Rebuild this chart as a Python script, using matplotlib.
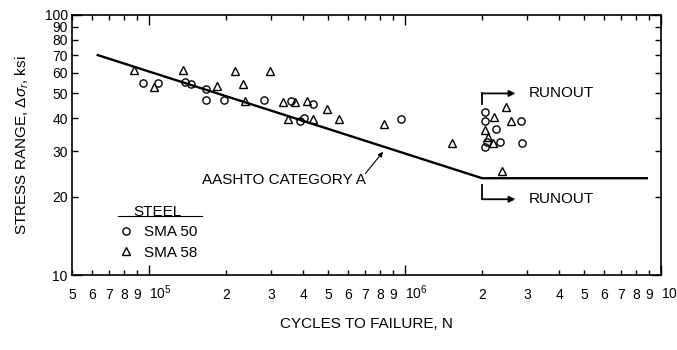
import matplotlib
matplotlib.use('Agg')
import matplotlib.pyplot as plt
from matplotlib.ticker import FixedLocator, FixedFormatter

plt.rcParams['font.family'] = ['Liberation Sans', 'DejaVu Sans']
plt.rcParams['mathtext.fontset'] = 'custom'
plt.rcParams['mathtext.rm'] = 'Liberation Sans'
plt.rcParams['mathtext.it'] = 'Liberation Sans:italic'

# AASHTO category A design line
aashto_n = [6.3e4, 2.0e6, 8.8e6]
aashto_s = [70.0, 23.6, 23.6]

# SMA 50 steel (circles)
sma50_n = [9.5e4, 1.087e5, 1.386e5, 1.459e5, 1.67e5, 1.67e5, 1.97e5, 2.81e5,
           3.58e5, 4.38e5, 3.90e5, 4.04e5, 9.65e5,
           2.05e6, 2.05e6, 2.84e6, 2.27e6, 2.09e6, 2.34e6, 2.05e6, 2.86e6]
sma50_s = [54.5, 54.8, 55.0, 54.3, 52.1, 46.9, 46.9, 46.9,
           46.7, 45.4, 39.2, 40.0, 39.7,
           42.4, 39.2, 39.1, 36.6, 32.4, 32.6, 31.2, 32.3]

# SMA 58 steel (triangles)
sma58_n = [8.74e4, 1.046e5, 1.354e5, 1.85e5, 2.17e5, 2.32e5, 2.36e5, 2.98e5,
           3.33e5, 3.72e5, 4.13e5, 3.48e5, 4.94e5, 4.36e5, 5.54e5, 8.28e5,
           1.53e6, 2.47e6, 2.23e6, 2.59e6, 2.05e6, 2.10e6, 2.20e6, 2.39e6]
sma58_s = [61.3, 52.9, 61.3, 53.4, 60.9, 54.2, 46.7, 60.8,
           46.3, 46.3, 46.7, 39.7, 43.4, 39.7, 39.7, 38.0,
           32.1, 44.3, 40.4, 39.1, 36.1, 34.0, 32.1, 25.1]

x_major = [1e5, 1e6, 1e7]
x_major_labels = [r'$10^5$', r'$10^6$', r'$10^7$']
x_minor = [5e4, 6e4, 7e4, 8e4, 9e4,
           2e5, 3e5, 4e5, 5e5, 6e5, 7e5, 8e5, 9e5,
           2e6, 3e6, 4e6, 5e6, 6e6, 7e6, 8e6, 9e6]
x_minor_labels = ['5', '6', '7', '8', '9',
                  '2', '3', '4', '5', '6', '7', '8', '9',
                  '2', '3', '4', '5', '6', '7', '8', '9']
y_major = [10, 100]
y_minor = [20, 30, 40, 50, 60, 70, 80, 90]

fs = 10
fs_txt = 11
fig = plt.figure(figsize=(6.77, 3.5), dpi=100)
ax = fig.add_axes([0.1064, 0.213, 0.87, 0.745])
ax.set_xscale('log')
ax.set_yscale('log')
ax.set_xlim(5e4, 1e7)
ax.set_ylim(10, 100)

ax.plot(aashto_n, aashto_s, color='black', lw=1.7)
ax.plot(sma50_n, sma50_s, 'o', ms=5.2, mfc='none', mec='black', mew=1.0, label='SMA 50')
ax.plot(sma58_n, sma58_s, '^', ms=5.2, mfc='none', mec='black', mew=1.0, label='SMA 58')

# x ticks
ax.xaxis.set_major_locator(FixedLocator(x_major))
ax.xaxis.set_major_formatter(FixedFormatter(x_major_labels))
ax.xaxis.set_minor_locator(FixedLocator(x_minor))
ax.xaxis.set_minor_formatter(FixedFormatter(x_minor_labels))
# y ticks
ax.yaxis.set_major_locator(FixedLocator(y_major))
ax.yaxis.set_major_formatter(FixedFormatter([str(v) for v in y_major]))
ax.yaxis.set_minor_locator(FixedLocator(y_minor))
ax.yaxis.set_minor_formatter(FixedFormatter([str(v) for v in y_minor]))

ax.tick_params(axis='both', which='both', direction='in', top=True, right=True,
               labelsize=fs, width=1.0)
ax.tick_params(axis='x', which='major', length=7, pad=5.5)
ax.tick_params(axis='x', which='minor', length=3.5, pad=9)
ax.tick_params(axis='y', which='major', length=7, pad=3)
ax.tick_params(axis='y', which='minor', length=4.5, pad=3)
for lbl in ax.xaxis.get_majorticklabels():
    lbl.set_horizontalalignment('left')
for sp in ax.spines.values():
    sp.set_linewidth(1.2)

ax.set_xlabel('CYCLES TO FAILURE, N', fontsize=fs_txt, labelpad=11)
ax.set_ylabel(r'STRESS RANGE, $\Delta\sigma_r$, ksi', fontsize=fs_txt, labelpad=10)

# runout brackets
ax.annotate('', xy=(2.7e6, 49.9), xytext=(2.0e6, 49.9),
            arrowprops=dict(arrowstyle='-|>', color='black', lw=1.3,
                            mutation_scale=9, shrinkA=0, shrinkB=0))
ax.plot([2.0e6, 2.0e6], [45.5, 49.9], color='black', lw=1.3)
ax.text(3.05e6, 49.9, 'RUNOUT', fontsize=fs_txt, va='center', ha='left')

ax.annotate('', xy=(2.7e6, 19.6), xytext=(2.0e6, 19.6),
            arrowprops=dict(arrowstyle='-|>', color='black', lw=1.3,
                            mutation_scale=9, shrinkA=0, shrinkB=0))
ax.plot([2.0e6, 2.0e6], [19.6, 22.3], color='black', lw=1.3)
ax.text(3.05e6, 19.6, 'RUNOUT', fontsize=fs_txt, va='center', ha='left')

# category label
ax.annotate('', xy=(8.2e5, 29.8), xytext=(7.0e5, 24.6),
            arrowprops=dict(arrowstyle='-|>', color='black', lw=0.8,
                            mutation_scale=7, shrinkA=0, shrinkB=0))
ax.text(1.61e5, 23.2, 'AASHTO CATEGORY A', fontsize=fs_txt, va='center', ha='left')

# legend
leg = ax.legend(title='STEEL', loc='upper left', bbox_to_anchor=(0.06, 0.31),
                frameon=False, fontsize=fs_txt, title_fontsize=fs_txt,
                handlelength=1.0, handletextpad=0.7, labelspacing=0.4,
                borderpad=0.2, alignment='center')
ax.plot([0.078, 0.221], [0.228, 0.228], color='black', lw=0.8,
        transform=ax.transAxes, clip_on=False)

fig.savefig('out.png', dpi=100)
